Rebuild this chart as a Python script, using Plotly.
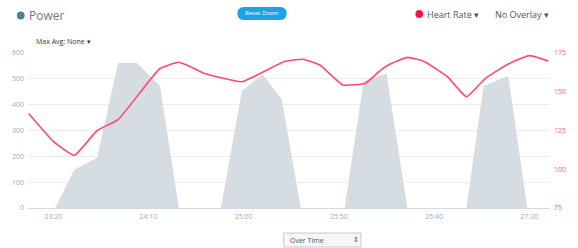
import plotly.graph_objects as go

# ---- data ----
hr_times = [1387, 1400, 1411, 1423, 1434, 1456, 1466, 1474, 1479, 1499, 1521, 1531,
            1540, 1552, 1564, 1571, 1576, 1586, 1595, 1607, 1617, 1627, 1639, 1650, 1660]
hr_values = [136, 118, 109, 125, 132, 165, 169, 165, 162, 156.5, 169.4, 171, 167.3,
             154.4, 155.5, 163, 167.3, 172.2, 169.4, 159.7, 146.8, 158.7, 167.9, 173.3, 169.8]

power_times = [1387, 1401, 1411, 1423, 1434, 1444, 1456, 1466, 1488, 1499, 1510, 1520,
               1530, 1553, 1563, 1575, 1586, 1617, 1626, 1639, 1649, 1661]
power_values = [0, 0, 148, 195, 561, 561, 473, 0, 0, 453, 518, 421,
                0, 0, 492, 521, 0, 0, 473, 511, 0, 0]

x_tickvals = [1400, 1450, 1500, 1550, 1600, 1650]
x_ticktext = ["23:20", "24:10", "25:00", "25:50", "26:40", "27:30"]
power_ticks = [0, 100, 200, 300, 400, 500, 600]
hr_ticks = [75, 100, 125, 150, 175]

# ---- layout helpers (pixel -> paper) ----
W, H = 578, 248
L, R, T, B = 22, 563, 53, 208
def px(x):
    return (x - L) / (R - L)
def py(y):
    return (B - y) / (B - T)

fig = go.Figure()
fig.add_trace(go.Scatter(
    x=power_times, y=power_values, mode="lines", fill="tozeroy",
    line=dict(width=0, color="#d6dde2"), fillcolor="#d6dde2",
    yaxis="y", hoverinfo="skip", showlegend=False))
fig.add_trace(go.Scatter(
    x=hr_times, y=hr_values, mode="lines",
    line=dict(width=1.6, color="#ff4a6e", shape="spline", smoothing=0.4),
    yaxis="y2", hoverinfo="skip", showlegend=False))

tickfont = dict(family="Open Sans", size=7, color="#aaaaaa")
fig.update_layout(
    width=W, height=H, autosize=False,
    margin=dict(l=L, r=W - R, t=T, b=H - B, pad=0),
    paper_bgcolor="white", plot_bgcolor="white",
    showlegend=False,
    xaxis=dict(range=[1386.7, 1660.9], tickvals=x_tickvals, ticktext=x_ticktext,
               showgrid=False, zeroline=False, showline=True, linecolor="#d0dbe8",
               linewidth=1, ticks="", tickfont=tickfont, ticklabelstandoff=2),
    yaxis=dict(range=[0, 600], tickvals=power_ticks, showgrid=True, gridcolor="#ececec",
               gridwidth=1, zeroline=False, showline=False, ticks="",
               tickfont=tickfont, ticklabelstandoff=3),
    yaxis2=dict(range=[75, 175], tickvals=hr_ticks, overlaying="y", side="right",
                showgrid=False, zeroline=False, showline=False, ticks="",
                tickfont=dict(family="Open Sans", size=7, color="#ff5a7a"),
                ticklabelstandoff=3),
)

shapes = []
annos = []
# Power legend header
shapes.append(dict(type="circle", xref="paper", yref="paper",
                   x0=px(10.5), x1=px(18.5), y0=py(11.5), y1=py(19.5),
                   fillcolor="#4f7d9c", line=dict(width=0)))
annos.append(dict(text="Power", x=px(21), y=py(15.5), xref="paper", yref="paper",
                  xanchor="left", yanchor="middle", showarrow=False,
                  font=dict(family="Open Sans", size=12, color="#777777")))
# Reset zoom button
x0, x1, y0, y1, r = 239, 290, 7, 20, 6.5
path = (f"M {px(x0 + r)} {py(y0)} L {px(x1 - r)} {py(y0)} "
        f"Q {px(x1)} {py(y0)} {px(x1)} {py(y0 + r)} "
        f"Q {px(x1)} {py(y1)} {px(x1 - r)} {py(y1)} "
        f"L {px(x0 + r)} {py(y1)} Q {px(x0)} {py(y1)} {px(x0)} {py(y1 - r)} "
        f"Q {px(x0)} {py(y0)} {px(x0 + r)} {py(y0)} Z")
shapes.append(dict(type="path", xref="paper", yref="paper", path=path,
                   fillcolor="#1ba3e6", line=dict(width=0)))
annos.append(dict(text="Reset Zoom", x=px(264.5), y=py(13.5), xref="paper", yref="paper",
                  xanchor="center", yanchor="middle", showarrow=False,
                  font=dict(family="Open Sans", size=6, color="white")))
# Heart rate legend
shapes.append(dict(type="circle", xref="paper", yref="paper",
                   x0=px(423.5), x1=px(431.5), y0=py(10), y1=py(18),
                   fillcolor="#ff1144", line=dict(width=0)))
annos.append(dict(text="Heart Rate ▾", x=px(433), y=py(14.5), xref="paper", yref="paper",
                  xanchor="left", yanchor="middle", showarrow=False,
                  font=dict(family="Open Sans", size=9, color="#555555")))
annos.append(dict(text="No Overlay ▾", x=px(504), y=py(14.5), xref="paper", yref="paper",
                  xanchor="left", yanchor="middle", showarrow=False,
                  font=dict(family="Open Sans", size=9, color="#555555")))
# Max avg
annos.append(dict(text="Max Avg: None ▾", x=px(28), y=py(41.5), xref="paper", yref="paper",
                  xanchor="left", yanchor="middle", showarrow=False,
                  font=dict(family="Open Sans", size=7, color="#333333")))
# Over time select
shapes.append(dict(type="rect", xref="paper", yref="paper",
                   x0=px(287), x1=px(367), y0=py(233), y1=py(247),
                   fillcolor="#f6f6f6", line=dict(width=1, color="#c8c8c8")))
annos.append(dict(text="Over Time", x=px(291), y=py(240), xref="paper", yref="paper",
                  xanchor="left", yanchor="middle", showarrow=False,
                  font=dict(family="Open Sans", size=7, color="#555555")))
annos.append(dict(text="⇕", x=px(362), y=py(240), xref="paper", yref="paper",
                  xanchor="center", yanchor="middle", showarrow=False,
                  font=dict(family="DejaVu Sans", size=7, color="#555555")))

fig.update_layout(shapes=shapes, annotations=annos)
fig.write_html("out.html", config={"displayModeBar": False},
               post_script="document.body.style.margin='0';document.body.style.overflow='hidden';")
